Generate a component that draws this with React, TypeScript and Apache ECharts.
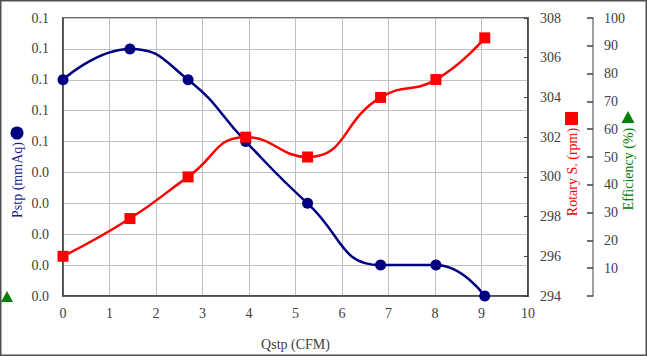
import React, { useEffect, useRef } from "react";
import * as echarts from "echarts";

const qstp = [0, 1.44, 2.69, 3.93, 5.26, 6.83, 8.02, 9.07];
const pstp = [0.07, 0.08, 0.07, 0.05, 0.03, 0.01, 0.01, 0.0];
const rotary = [296.0, 297.9, 300.0, 302.0, 301.0, 304.0, 304.9, 307.0];

const FONT = "Liberation Serif";
const LABEL_COLOR = "#404040";

export default function App() {
  const ref = useRef<HTMLDivElement>(null);
  useEffect(() => {
    document.body.style.margin = "0";
    const chart = echarts.init(ref.current!, null, { renderer: "svg" });
    const labelStyle = { color: LABEL_COLOR, fontFamily: FONT, fontSize: 14 };
    chart.setOption({
      animation: false,
      backgroundColor: "#ffffff",
      textStyle: { fontFamily: FONT },
      grid: {
        left: 63,
        top: 18,
        right: 119,
        bottom: 59,
        show: true,
        borderColor: "#404040",
        borderWidth: 1.5,
        containLabel: false,
      },
      xAxis: {
        type: "value",
        min: 0,
        max: 10,
        interval: 1,
        name: "Qstp (CFM)",
        nameLocation: "middle",
        nameGap: 41,
        nameTextStyle: { color: LABEL_COLOR, fontFamily: FONT, fontSize: 14 },
        axisLine: { show: true, lineStyle: { color: "#404040", width: 1.5 } },
        axisTick: { show: false },
        axisLabel: { ...labelStyle, margin: 10 },
        splitLine: { show: true, lineStyle: { color: "#c0c0c0", width: 1 } },
      },
      yAxis: [
        {
          type: "value",
          min: 0,
          max: 0.09,
          interval: 0.01,
          position: "left",
          axisLine: { show: true, lineStyle: { color: "#404040", width: 1.5 } },
          axisTick: { show: false },
          axisLabel: {
            ...labelStyle,
            margin: 14,
            formatter: (v: number) => (Math.round(v * 10 + 1e-9) / 10).toFixed(1),
          },
          splitLine: { show: true, lineStyle: { color: "#c0c0c0", width: 1 } },
        },
        {
          type: "value",
          min: 294,
          max: 308,
          interval: 2,
          position: "right",
          axisLine: { show: true, lineStyle: { color: "#404040", width: 1.5 } },
          axisTick: { show: true, inside: true, length: 4, lineStyle: { color: "#404040" } },
          axisLabel: { ...labelStyle, margin: 12 },
          splitLine: { show: false },
        },
        {
          type: "value",
          min: 0,
          max: 100,
          interval: 10,
          position: "right",
          offset: 65,
          axisLine: { show: true, lineStyle: { color: "#808080", width: 1.5 } },
          axisTick: { show: true, inside: true, length: 6, lineStyle: { color: "#404040", width: 1.5 } },
          axisLabel: {
            ...labelStyle,
            margin: 11,
            formatter: (v: number) => (v === 0 ? "" : String(v)),
          },
          splitLine: { show: false },
        },
      ],
      series: [
        {
          name: "Pstp",
          type: "line",
          yAxisIndex: 0,
          data: qstp.map((x, i) => [x, pstp[i]]),
          smooth: 0.5,
          symbol: "circle",
          symbolSize: 11,
          lineStyle: { color: "#000080", width: 2.5 },
          itemStyle: { color: "#000080" },
        },
        {
          name: "Rotary S.",
          type: "line",
          yAxisIndex: 1,
          data: qstp.map((x, i) => [x, rotary[i]]),
          smooth: 0.5,
          symbol: "rect",
          symbolSize: 11,
          lineStyle: { color: "#ff0000", width: 2.5 },
          itemStyle: { color: "#ff0000" },
        },
      ],
      graphic: [
        {
          type: "rect",
          shape: { x: 0.75, y: 0.75, width: 645.5, height: 354.5 },
          style: { fill: "none", stroke: "#505050", lineWidth: 1.5 },
          silent: true,
        },
        {
          type: "text",
          x: 17,
          y: 180,
          rotation: Math.PI / 2,
          style: {
            text: "Pstp (mmAq)",
            fill: "#1c1c8c",
            fontFamily: FONT,
            fontSize: 14,
            textAlign: "center",
            textVerticalAlign: "middle",
          },
        },
        {
          type: "circle",
          shape: { cx: 17, cy: 133, r: 6.5 },
          style: { fill: "#000080" },
        },
        {
          type: "text",
          x: 572,
          y: 172,
          rotation: Math.PI / 2,
          style: {
            text: "Rotary S. (rpm)",
            fill: "#ff0000",
            fontFamily: FONT,
            fontSize: 14,
            textAlign: "center",
            textVerticalAlign: "middle",
          },
        },
        {
          type: "rect",
          shape: { x: 565, y: 112, width: 13, height: 13 },
          style: { fill: "#ff0000" },
        },
        {
          type: "text",
          x: 628,
          y: 169,
          rotation: Math.PI / 2,
          style: {
            text: "Efficiency (%)",
            fill: "#008000",
            fontFamily: FONT,
            fontSize: 14,
            textAlign: "center",
            textVerticalAlign: "middle",
          },
        },
        {
          type: "polygon",
          shape: { points: [[628, 111], [634.5, 123], [621.5, 123]] },
          style: { fill: "#008000" },
        },
        {
          type: "polygon",
          shape: { points: [[7, 291], [13, 302], [1, 302]] },
          style: { fill: "#008000" },
        },
      ],
    });
    return () => chart.dispose();
  }, []);
  return <div ref={ref} style={{ width: 647, height: 356 }} />;
}
